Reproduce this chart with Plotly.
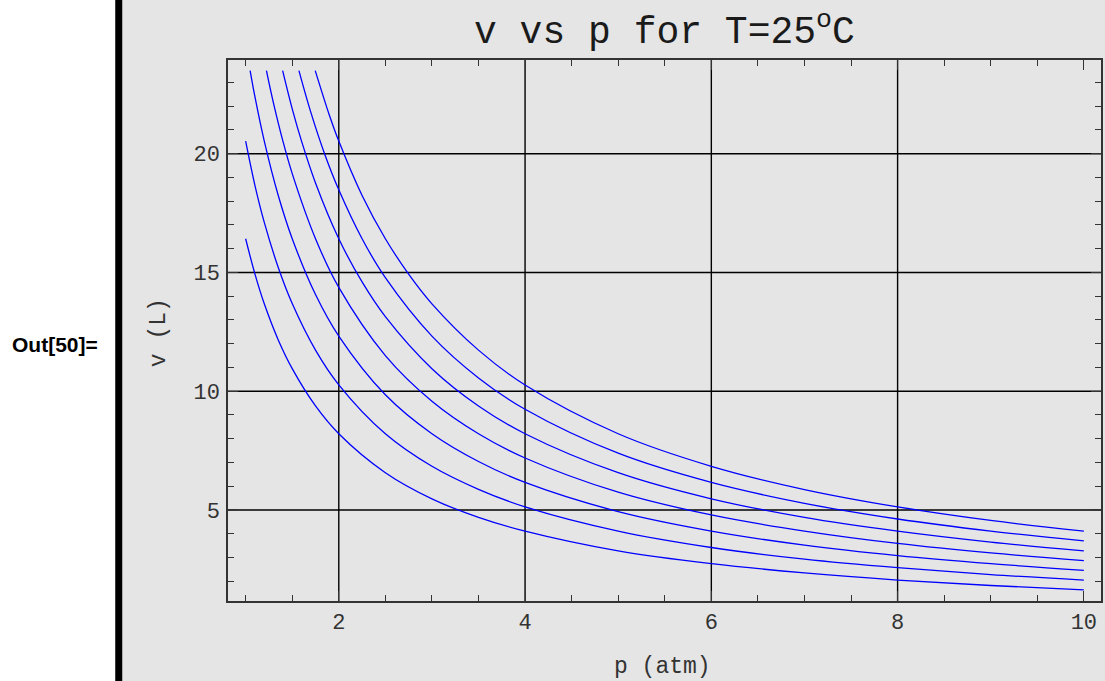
import plotly.graph_objects as go

# ---- data (v in L, p in atm) ----
p_c1 = [1.0, 1.1, 1.2, 1.35, 1.5, 1.75, 2.0, 2.5, 3.0, 3.5, 4.0, 5, 6, 7, 8, 9, 10]
v_c1 = [16.42, 14.93, 13.68, 12.16, 10.95, 9.38, 8.21, 6.57, 5.47, 4.69, 4.11, 3.28, 2.74, 2.35, 2.05, 1.82, 1.64]

p_c2 = [1.0, 1.1, 1.2, 1.35, 1.5, 1.75, 2.0, 2.5, 3.0, 3.5, 4.0, 5, 6, 7, 8, 9, 10]
v_c2 = [20.53, 18.66, 17.11, 15.21, 13.69, 11.73, 10.27, 8.21, 6.84, 5.87, 5.13, 4.11, 3.42, 2.93, 2.57, 2.28, 2.05]

p_c3 = [1.048, 1.1, 1.2, 1.35, 1.5, 1.75, 2.0, 2.5, 3.0, 3.5, 4.0, 5, 6, 7, 8, 9, 10]
v_c3 = [23.50, 22.39, 20.53, 18.24, 16.42, 14.07, 12.32, 9.85, 8.21, 7.04, 6.16, 4.93, 4.11, 3.52, 3.08, 2.74, 2.46]

p_c4 = [1.223, 1.3, 1.4, 1.5, 1.75, 2.0, 2.5, 3.0, 3.5, 4.0, 5, 6, 7, 8, 9, 10]
v_c4 = [23.50, 22.11, 20.53, 19.16, 16.42, 14.37, 11.50, 9.58, 8.21, 7.19, 5.75, 4.79, 4.11, 3.59, 3.19, 2.87]

p_c5 = [1.397, 1.5, 1.6, 1.75, 2.0, 2.25, 2.5, 3.0, 3.5, 4.0, 5, 6, 7, 8, 9, 10]
v_c5 = [23.50, 21.89, 20.53, 18.77, 16.42, 14.60, 13.14, 10.95, 9.38, 8.21, 6.57, 5.47, 4.69, 4.11, 3.65, 3.28]

p_c6 = [1.572, 1.7, 1.85, 2.0, 2.25, 2.5, 3.0, 3.5, 4.0, 5, 6, 7, 8, 9, 10]
v_c6 = [23.50, 21.74, 19.97, 18.48, 16.42, 14.78, 12.32, 10.56, 9.24, 7.39, 6.16, 5.28, 4.62, 4.11, 3.70]

p_c7 = [1.747, 1.9, 2.0, 2.25, 2.5, 2.75, 3.0, 3.5, 4.0, 5, 6, 7, 8, 9, 10]
v_c7 = [23.50, 21.61, 20.53, 18.24, 16.42, 14.93, 13.68, 11.73, 10.26, 8.21, 6.84, 5.86, 5.13, 4.56, 4.11]

curves = [(p_c1, v_c1), (p_c2, v_c2), (p_c3, v_c3), (p_c4, v_c4),
          (p_c5, v_c5), (p_c6, v_c6), (p_c7, v_c7)]

x_ticks = [2, 4, 6, 8, 10]
x_tick_text = ["2", "4", "6", "8", "10"]
y_ticks = [5, 10, 15, 20]
y_tick_text = ["5", "10", "15", "20"]
grid_x = [2, 4, 6, 8]
grid_y = [5, 10, 15, 20]

title_text = "v vs p for T=25<sup>o</sup>C"
x_label = "p (atm)"
y_label = "v (L)"
out_label = "Out[50]="

# ---- styling ----
BG = "#e5e5e5"
MONO = "Courier New, Liberation Mono, monospace"
FIG_W, FIG_H = 1105, 681
ML, MR, MT, MB = 228, 2, 60, 80
PW = FIG_W - ML - MR
PH = FIG_H - MT - MB


def px_x(px):
    return (px - ML) / PW


def px_y(py):
    return (FIG_H - MB - py) / PH


fig = go.Figure()
for px_, pv_ in curves:
    fig.add_trace(go.Scatter(x=px_, y=pv_, mode="lines",
                             line=dict(color="#0000ff", width=1.3, shape="spline"),
                             hoverinfo="skip", showlegend=False))

shapes = []
# left white margin and black cell bracket
shapes.append(dict(type="rect", xref="paper", yref="paper",
                   x0=px_x(-5), x1=px_x(115), y0=px_y(FIG_H + 5), y1=px_y(-5),
                   fillcolor="white", line=dict(width=0), layer="below"))
shapes.append(dict(type="rect", xref="paper", yref="paper",
                   x0=px_x(115), x1=px_x(122), y0=px_y(FIG_H + 5), y1=px_y(-5),
                   fillcolor="black", line=dict(width=0), layer="below"))
for gx in grid_x:
    shapes.append(dict(type="line", xref="x", yref="paper", x0=gx, x1=gx, y0=0, y1=1,
                       line=dict(color="black", width=1.4), layer="below"))
for gy in grid_y:
    shapes.append(dict(type="line", xref="paper", yref="y", x0=0, x1=1, y0=gy, y1=gy,
                       line=dict(color="black", width=1.4), layer="below"))

annotations = [
    dict(text=title_text, xref="paper", yref="paper", x=0.5, y=px_y(30),
         xanchor="center", yanchor="middle", showarrow=False,
         font=dict(family=MONO, size=38, color="#1a1a1a")),
    dict(text=x_label, xref="paper", yref="paper", x=px_x(663), y=px_y(667),
         xanchor="center", yanchor="middle", showarrow=False,
         font=dict(family=MONO, size=23, color="#333")),
    dict(text=y_label, xref="paper", yref="paper", x=px_x(159), y=px_y(333),
         xanchor="center", yanchor="middle", showarrow=False, textangle=-90,
         font=dict(family=MONO, size=23, color="#333")),
    dict(text="<b>" + out_label + "</b>", xref="paper", yref="paper", x=px_x(10), y=px_y(344),
         xanchor="left", yanchor="middle", showarrow=False,
         font=dict(family="Liberation Sans, Arial, sans-serif", size=21, color="black")),
]

axis_common = dict(showgrid=False, zeroline=False, showline=True, linecolor="#333",
                   linewidth=1.5, mirror="allticks", ticks="inside", ticklen=10,
                   tickwidth=1.2, tickcolor="#333",
                   tickfont=dict(family=MONO, size=22, color="#333"))

fig.update_layout(
    width=FIG_W, height=FIG_H,
    margin=dict(l=ML, r=MR, t=MT, b=MB, pad=0),
    paper_bgcolor=BG, plot_bgcolor=BG,
    shapes=shapes, annotations=annotations, showlegend=False,
    xaxis=dict(range=[0.8104, 10.184], tickmode="array", tickvals=x_ticks,
               ticktext=x_tick_text,
               minor=dict(dtick=0.5, tick0=0, ticks="inside", ticklen=6,
                          tickwidth=1.2, tickcolor="#333", showgrid=False),
               **axis_common),
    yaxis=dict(range=[1.168, 23.945], tickmode="array", tickvals=y_ticks,
               ticktext=y_tick_text, ticklabelstandoff=2,
               minor=dict(dtick=1, tick0=0, ticks="inside", ticklen=6,
                          tickwidth=1.2, tickcolor="#333", showgrid=False),
               **axis_common),
)

fig.write_html("out.html", config={"displayModeBar": False})

# remove the default page margin so the figure sits at the window's top-left corner
with open("out.html", "r", encoding="utf-8") as fh:
    html = fh.read()
html = html.replace("<head>", "<head><style>html,body{margin:0;padding:0;overflow:hidden;}</style>", 1)
with open("out.html", "w", encoding="utf-8") as fh:
    fh.write(html)
